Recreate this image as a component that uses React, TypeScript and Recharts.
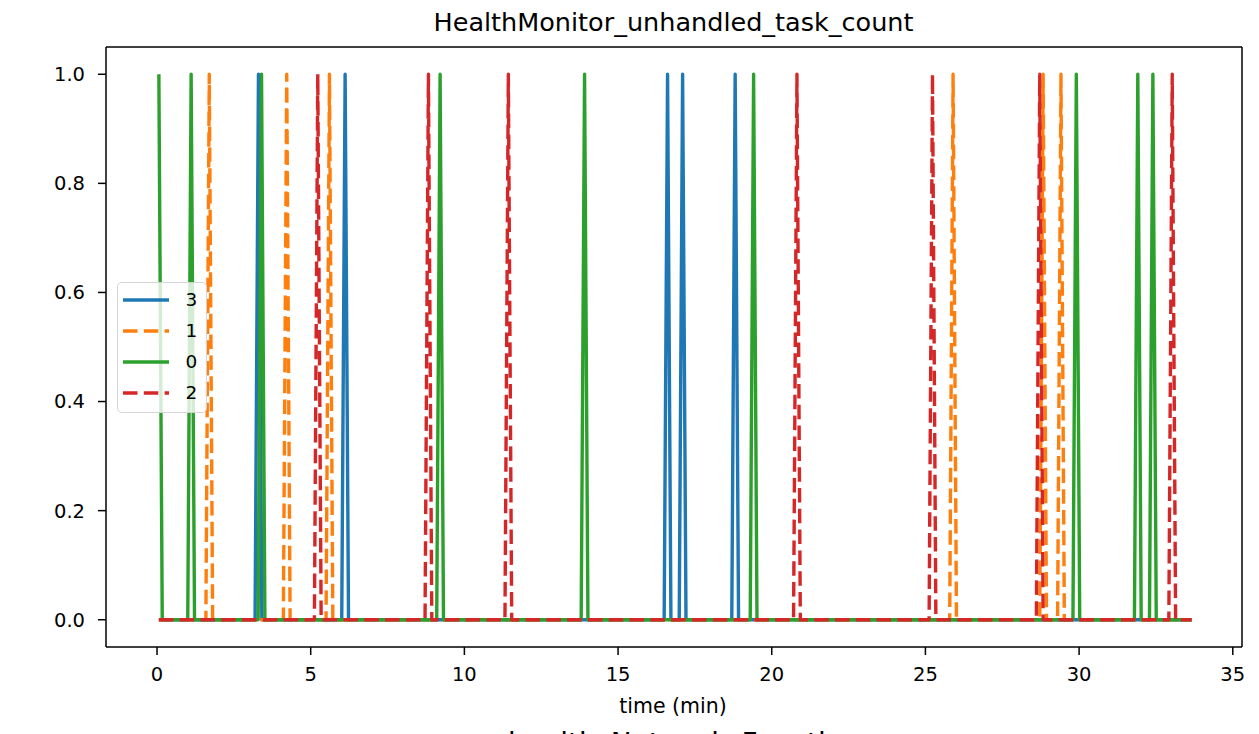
import React from 'react';
import { LineChart, Line, XAxis, YAxis } from 'recharts';

// ---- data ----
const SERIES_NAMES = ['3', '1', '0', '2'];
const SERIES_COLORS = ['#1f77b4', '#ff7f0e', '#2ca02c', '#d62728'];
const SERIES_DASHED = [false, true, false, true];

// times (min) at which each series reports 1 (otherwise 0)
const spikes3 = [3.3, 6.12, 16.61, 17.1, 18.81];
const spikes1 = [1.7, 4.22, 5.61, 25.9, 28.83, 29.41];
const spikes0 = [1.11, 3.4, 9.21, 13.91, 19.41, 29.91, 31.91, 32.4];
const spikes2 = [5.23, 8.83, 11.43, 20.82, 25.23, 28.72, 33.03];
const startValues = [0, 0, 1, 0];

const T_START = 0.06;
const T_END = 33.66;
const SAMPLE = 0.11; // sampling interval (min)

const xTicks = [0, 5, 10, 15, 20, 25, 30, 35];
const yTicks = [0, 0.2, 0.4, 0.6, 0.8, 1.0];
const X_DOMAIN: [number, number] = [-1.66, 35.3];
const Y_DOMAIN: [number, number] = [-0.05, 1.05];

const TITLE = 'HealthMonitor_unhandled_task_count';
const X_LABEL = 'time (min)';
const NEXT_TITLE = 'health_Network_Function';

type Pt = { t: number; v: number };

function buildSeries(spikes: number[], startValue: number): Pt[] {
  const pts: Pt[] = [{ t: T_START, v: startValue }];
  if (startValue !== 0) pts.push({ t: T_START + SAMPLE, v: 0 });
  spikes.forEach((s) => {
    pts.push({ t: s - SAMPLE, v: 0 });
    pts.push({ t: s, v: 1 });
    pts.push({ t: s + SAMPLE, v: 0 });
  });
  pts.push({ t: T_END, v: 0 });
  return pts;
}

const allSpikes = [spikes3, spikes1, spikes0, spikes2];
const seriesData = allSpikes.map((s, i) => buildSeries(s, startValues[i]));

const FONT = '"DejaVu Sans", sans-serif';
const DASH = '14.5 6.3';
const LW = 3.4;

export default function App() {
  const axisStroke = { stroke: '#000', strokeWidth: 1.5 };
  return (
    <div style={{ position: 'relative', width: 1243, height: 726, overflow: 'hidden', fontFamily: FONT }}>
      <LineChart width={1243} height={726} margin={{ top: 38, right: 8, bottom: 0, left: 0 }}>
        <XAxis
          xAxisId={0}
          dataKey="t"
          type="number"
          domain={X_DOMAIN}
          ticks={xTicks}
          allowDataOverflow
          height={87}
          tickSize={8}
          tickMargin={12}
          axisLine={axisStroke}
          tickLine={axisStroke}
          tick={{ fill: '#000', fontSize: 19.5, fontFamily: FONT }}
          interval={0}
        />
        <XAxis
          xAxisId="top"
          orientation="top"
          type="number"
          domain={X_DOMAIN}
          allowDataOverflow
          height={1}
          tick={false}
          tickLine={false}
          axisLine={axisStroke}
        />
        <YAxis
          yAxisId={0}
          type="number"
          domain={Y_DOMAIN}
          ticks={yTicks}
          allowDataOverflow
          width={98}
          tickSize={8}
          tickMargin={13}
          axisLine={axisStroke}
          tickLine={axisStroke}
          tick={{ fill: '#000', fontSize: 19.5, fontFamily: FONT }}
          tickFormatter={(v: number) => v.toFixed(1)}
          interval={0}
        />
        <YAxis
          yAxisId="right"
          orientation="right"
          type="number"
          domain={Y_DOMAIN}
          allowDataOverflow
          width={1}
          tick={false}
          tickLine={false}
          axisLine={axisStroke}
        />
        {seriesData.map((d, i) => (
          <Line
            key={SERIES_NAMES[i]}
            data={d}
            dataKey="v"
            name={SERIES_NAMES[i]}
            type="linear"
            stroke={SERIES_COLORS[i]}
            strokeWidth={LW}
            strokeDasharray={SERIES_DASHED[i] ? DASH : undefined}
            strokeLinejoin="round"
            dot={false}
            activeDot={false}
            isAnimationActive={false}
          />
        ))}
      </LineChart>
      <svg
        width={1243}
        height={726}
        style={{ position: 'absolute', left: 0, top: 0, pointerEvents: 'none' }}
      >
        <text x={665.5} y={23} textAnchor="middle" fontSize={25.5} fontFamily={FONT} fill="#000">
          {TITLE}
        </text>
        <text x={665} y={705} textAnchor="middle" fontSize={20.5} fontFamily={FONT} fill="#000">
          {X_LABEL}
        </text>
        <text x={500} y={745} textAnchor="start" fontSize={28} fontFamily={FONT} fill="#000">
          {NEXT_TITLE}
        </text>
      </svg>
      <div
        style={{
          position: 'absolute',
          left: 108.5,
          top: 273.5,
          width: 90,
          height: 131,
          boxSizing: 'border-box',
          border: '1.5px solid rgba(204,204,204,0.8)',
          borderRadius: 5,
          background: 'rgba(255,255,255,0.8)',
        }}
      >
        {SERIES_NAMES.map((n, i) => (
          <div key={n} style={{ position: 'absolute', left: 0, top: 17.3 + i * 31 - 15, height: 30, width: 88 }}>
            <svg width={60} height={30} style={{ position: 'absolute', left: 0, top: 0 }}>
              <line
                x1={5}
                x2={51}
                y1={15}
                y2={15}
                stroke={SERIES_COLORS[i]}
                strokeWidth={LW}
                strokeDasharray={SERIES_DASHED[i] ? DASH : undefined}
              />
            </svg>
            <span
              style={{
                position: 'absolute',
                left: 68,
                top: 0,
                lineHeight: '30px',
                fontSize: 18.5,
                fontFamily: FONT,
                color: '#000',
              }}
            >
              {n}
            </span>
          </div>
        ))}
      </div>
    </div>
  );
}
